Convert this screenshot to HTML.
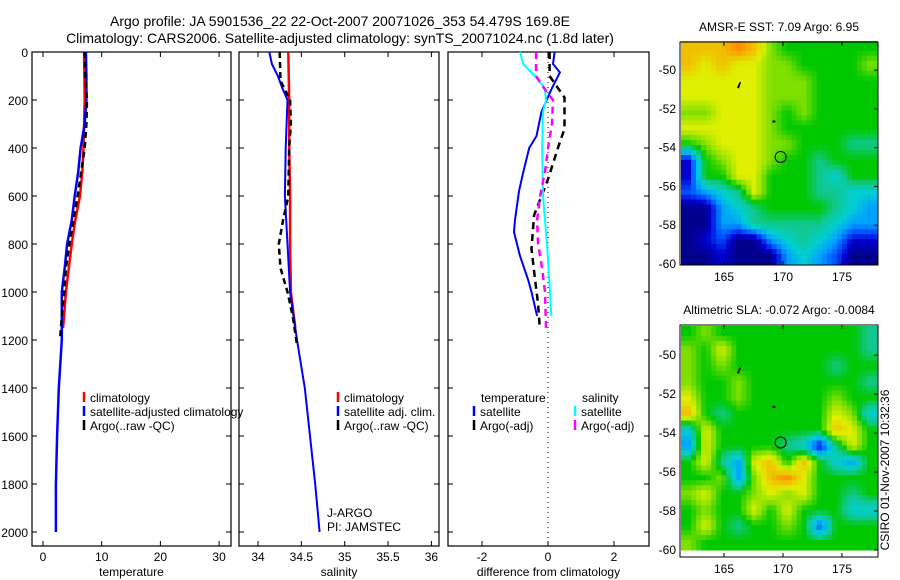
<!DOCTYPE html>
<html><head><meta charset="utf-8"><style>
html,body{margin:0;padding:0;background:#fff;}
svg{display:block;font-family:"Liberation Sans",sans-serif;}
</style></head><body>
<svg id="fig" width="900" height="580" viewBox="0 0 900 580" xmlns="http://www.w3.org/2000/svg">
<text x="340" y="26" font-size="14" text-anchor="middle">Argo profile: JA 5901536_22 22-Oct-2007 20071026_353 54.479S 169.8E</text>
<text x="340" y="43" font-size="14" text-anchor="middle">Climatology: CARS2006. Satellite-adjusted climatology: synTS_20071024.nc (1.8d later)</text>
<g id="p1"></g>
<g id="p2"></g>
<g id="p3"></g>
<g id="m1"></g>
<g id="m2"></g>
<text transform="translate(889,470) rotate(-90)" font-size="12" text-anchor="middle">CSIRO 01-Nov-2007 10:32:36</text>
</svg>
<script>
// ---- data ----
const depthTicks=[0,200,400,600,800,1000,1200,1400,1600,1800,2000];
const tempTicks=[0,10,20,30];
const salTicks=[34,34.5,35,35.5,36];
const diffTicks=[-2,0,2];
const tClimDepth=[0,200,400,500,600,700,800,900,1000,1100,1150];
const tClimVal=[7.0,7.1,6.9,6.7,6.3,5.5,4.9,4.4,3.9,3.6,3.4];
const tSatDepth=[0,100,200,300,400,500,600,700,800,900,1000,1200,1400,1600,1800,2000];
const tSatVal=[7.3,7.4,7.4,7.1,6.4,6.0,5.4,4.9,4.1,3.7,3.2,3.2,2.7,2.4,2.2,2.2];
const tArgoDepth=[0,100,200,300,400,500,600,700,800,900,1000,1100,1200];
const tArgoVal=[7.1,7.2,7.5,7.4,7.1,6.5,5.9,5.2,4.5,3.9,3.6,3.2,2.9];
const sClimDepth=[0,200,400,600,800,1000,1150];
const sClimVal=[34.35,34.36,34.36,34.37,34.37,34.38,34.43];
const sSatDepth=[0,50,100,150,200,400,600,800,1000,1200,1400,1600,1800,2000];
const sSatVal=[34.13,34.16,34.23,34.28,34.34,34.32,34.31,34.34,34.37,34.45,34.54,34.6,34.66,34.71];
const sArgoDepth=[0,120,200,300,400,600,700,800,900,1000,1100,1220];
const sArgoVal=[34.25,34.26,34.37,34.38,34.36,34.35,34.29,34.24,34.26,34.34,34.4,34.45];
const dTSatDepth=[0,50,85,150,250,350,400,500,580,700,750,850,950,1000,1100];
const dTSatVal=[0.2,0.15,0.36,0.12,-0.2,-0.35,-0.57,-0.75,-0.88,-1.0,-1.03,-0.85,-0.6,-0.5,-0.33];
const dTArgoDepth=[0,100,150,190,320,400,530,680,820,940,1050,1150];
const dTArgoVal=[0.05,0.05,0.3,0.5,0.5,0.3,0.0,-0.42,-0.5,-0.4,-0.3,-0.25];
const dSSatDepth=[0,50,100,150,200,250,400,600,800,1000,1100];
const dSSatVal=[-0.85,-0.75,-0.4,-0.1,-0.06,-0.15,-0.18,-0.15,-0.03,0.06,0.1];
const dSArgoDepth=[0,100,150,200,300,400,500,600,700,800,900,1000,1150];
const dSArgoVal=[-0.36,-0.36,-0.12,0.15,0.12,0.0,-0.09,-0.24,-0.33,-0.3,-0.18,-0.09,-0.06];
const sstGrid=["999a97666666","989887766667","888887776666","888887776666","778887676666","888887666666","678887766655","167887665666","166886665466","234586665544","003456666543","003355555433","012003454311","001000343200"];
const slaGrid=["676666666665","768666666665","767666666566","766766666665","866766666766","965666666874","486666666986","386666541586","685389696436","667379a86666","786678786656","676686866644","686566762666","766666666666"];
const mapXTicks=[165,170,175];
const mapYTicks=[-50,-52,-54,-56,-58,-60];
// ---- helpers ----
const NS="http://www.w3.org/2000/svg";
function mk(parent,tag,attrs){const e=document.createElementNS(NS,tag);for(const k in attrs)e.setAttribute(k,attrs[k]);parent.appendChild(e);return e;}
const Y=d=>52+d*0.24;
function panel(g,x0,x1,xs,ticks,fmt,title,leftLabels){
  const r=mk(g,'rect',{x:x0,y:52,width:x1-x0,height:494,fill:'none',stroke:'#000','stroke-width':1.2});
  
  
  depthTicks.forEach(d=>{
    mk(g,'line',{x1:x0,x2:x0+5,y1:Y(d),y2:Y(d),stroke:'#000'});
    mk(g,'line',{x1:x1-5,x2:x1,y1:Y(d),y2:Y(d),stroke:'#000'});
    if(leftLabels){const t=mk(g,'text',{x:x0-4,y:Y(d)+5,'font-size':12,'text-anchor':'end'});t.textContent=d;
      
      }
  });
  ticks.forEach(v=>{
    const x=xs(v);
    mk(g,'line',{x1:x,x2:x,y1:546,y2:541,stroke:'#000'});
    mk(g,'line',{x1:x,x2:x,y1:52,y2:57,stroke:'#000'});
    const t=mk(g,'text',{x:x,y:561,'font-size':12,'text-anchor':'middle'});t.textContent=fmt(v);
    
    
  });
  const tt=mk(g,'text',{x:(x0+x1)/2,y:576,'font-size':12,'text-anchor':'middle'});tt.textContent=title;
  
  
}
function line(g,xs,dep,val,color,dash,w,name){
  const p=dep.map((d,i)=>xs(val[i]).toFixed(1)+','+Y(d).toFixed(1)).join(' ');
  const e=mk(g,'polyline',{points:p,fill:'none',stroke:color,'stroke-width':w});
  if(dash)e.setAttribute('stroke-dasharray',dash);
  
  
}
function legend(g,x,y,color,label){
  mk(g,'line',{x1:x,x2:x,y1:y-6,y2:y+4,stroke:color,'stroke-width':2.5});
  const t=mk(g,'text',{x:x+6,y:y+4,'font-size':12});t.textContent=label;
  
  
}
// panel 1
const p1=document.getElementById('p1');const xT=v=>43+v*5.87;
panel(p1,32,231,xT,tempTicks,v=>v,'temperature',true);
line(p1,xT,tClimDepth,tClimVal,'#f00',null,2.5,'temp-climatology-line');
line(p1,xT,tSatDepth,tSatVal,'#00f',null,2.5,'temp-satellite-line');
line(p1,xT,tArgoDepth,tArgoVal,'#000','6,4',2.5,'temp-argo-line');
legend(p1,84,398,'#f00','climatology');legend(p1,84,412,'#00f','satellite-adjusted climatology');legend(p1,84,426,'#000','Argo(..raw -QC)');
// panel 2
const p2=document.getElementById('p2');const xS=v=>258+(v-34)*86.7;
panel(p2,239,439,xS,salTicks,v=>v,'salinity',false);
line(p2,xS,sClimDepth,sClimVal,'#f00',null,2.5,'sal-climatology-line');
line(p2,xS,sSatDepth,sSatVal,'#00f',null,2,'sal-satellite-line');
line(p2,xS,sArgoDepth,sArgoVal,'#000','6,4',2.5,'sal-argo-line');
legend(p2,338,398,'#f00','climatology');legend(p2,338,412,'#00f','satellite adj. clim.');legend(p2,338,426,'#000','Argo(..raw -QC)');
let t=mk(p2,'text',{x:327,y:517,'font-size':12});t.textContent='J-ARGO';


t=mk(p2,'text',{x:327,y:531,'font-size':12});t.textContent='PI: JAMSTEC';


// panel 3
const p3=document.getElementById('p3');const xD=v=>548+v*33;
panel(p3,448,649,xD,diffTicks,v=>v,'difference from climatology',false);
mk(p3,'line',{x1:xD(0),x2:xD(0),y1:52,y2:546,stroke:'#000','stroke-dasharray':'1,4'});
line(p3,xD,dTSatDepth,dTSatVal,'#00f',null,2,'dtemp-satellite-line');
line(p3,xD,dTArgoDepth,dTArgoVal,'#000','7,5',2.5,'dtemp-argo-line');
line(p3,xD,dSSatDepth,dSSatVal,'#0ff',null,2,'dsal-satellite-line');
line(p3,xD,dSArgoDepth,dSArgoVal,'#f0f','7,5',2.5,'dsal-argo-line');
t=mk(p3,'text',{x:481,y:402,'font-size':12});t.textContent='temperature';


t=mk(p3,'text',{x:582,y:402,'font-size':12});t.textContent='salinity';


legend(p3,474,412,'#00f','satellite');legend(p3,474,426,'#000','Argo(-adj)');
legend(p3,575,412,'#0ff','satellite');legend(p3,575,426,'#f0f','Argo(-adj)');
// maps
const palRGB=[[0,0,140],[0,0,208],[0,80,255],[0,160,255],[0,208,208],[16,200,144],[0,200,0],[128,224,0],[224,240,0],[240,192,0],[255,140,0]];
function colorAt(v){v=Math.max(0,Math.min(10,v));const i=Math.min(9,Math.floor(v)),f=v-i;const a=palRGB[i],b=palRGB[i+1];
  return 'rgb('+a.map((c,k)=>Math.round(c+(b[k]-c)*f)).join(',')+')';}
function map(g,top,bottom,grid,title,ytop,ybot){
  const x0=681,x1=877;const rows=grid.length,cols=grid[0].length;
  const vals=grid.map(r=>[...r].map(c=>parseInt(c,16)));
  const N=5;const nx=Math.round((x1-x0)/N),ny=Math.round((ybot-ytop)/N);
  const cw=(x1-x0)/nx,ch=(ybot-ytop)/ny;
  for(let j=0;j<ny;j++)for(let i=0;i<nx;i++){
    const gx=Math.max(0,Math.min(cols-1,(i+0.5)/nx*cols-0.5)),gy=Math.max(0,Math.min(rows-1,(j+0.5)/ny*rows-0.5));
    const ix=Math.min(cols-2,Math.floor(gx)),iy=Math.min(rows-2,Math.floor(gy)),fx=gx-ix,fy=gy-iy;
    const v=vals[iy][ix]*(1-fx)*(1-fy)+vals[iy][ix+1]*fx*(1-fy)+vals[iy+1][ix]*(1-fx)*fy+vals[iy+1][ix+1]*fx*fy;
    const e=mk(g,'rect',{x:(x0+i*cw).toFixed(2),y:(ytop+j*ch).toFixed(2),width:(cw+0.5).toFixed(2),height:(ch+0.5).toFixed(2),fill:colorAt(v)});
    
    
  }
  const fr=mk(g,'rect',{x:680,y:top,width:198,height:bottom-top,fill:'none',stroke:'#000'});
  
  
  const lon=v=>783+(v-170)*11.8;
  const lat=v=>ytop+ (-48.5-v)/11.5*(ybot-ytop) ;
  mapXTicks.forEach(v=>{
    mk(g,'line',{x1:lon(v),x2:lon(v),y1:bottom,y2:bottom-4,stroke:'#000'});
    mk(g,'line',{x1:lon(v),x2:lon(v),y1:top,y2:top+4,stroke:'#000'});
    const tx=mk(g,'text',{x:lon(v),y:bottom+16,'font-size':12,'text-anchor':'middle'});tx.textContent=v;
    
    
  });
  mapYTicks.forEach(v=>{
    mk(g,'line',{x1:878,x2:874,y1:lat(v),y2:lat(v),stroke:'#000'});
    const tx=mk(g,'text',{x:676,y:lat(v)+4,'font-size':12,'text-anchor':'end'});tx.textContent=v;
    
    
  });
  const c=mk(g,'circle',{cx:lon(169.8),cy:lat(-54.48),r:5.5,fill:'none',stroke:'#000','stroke-width':1});
  
  
  mk(g,'path',{d:`M${lon(166.1)} ${lat(-50.9)} l3 -6 l1 1 l-2 6 z`,fill:'#000'});
  mk(g,'rect',{x:lon(169.1),y:lat(-52.6),width:3,height:2,fill:'#000'});
  const tt=mk(g,'text',{x:779,y:top-11,'font-size':12,'text-anchor':'middle'});tt.textContent=title;
  
  
}
map(document.getElementById('m1'),42,265,sstGrid,'AMSR-E SST: 7.09 Argo: 6.95',41,264);
map(document.getElementById('m2'),325,557,slaGrid,'Altimetric SLA: -0.072 Argo: -0.0084',326,550);
</script>
</body></html>
